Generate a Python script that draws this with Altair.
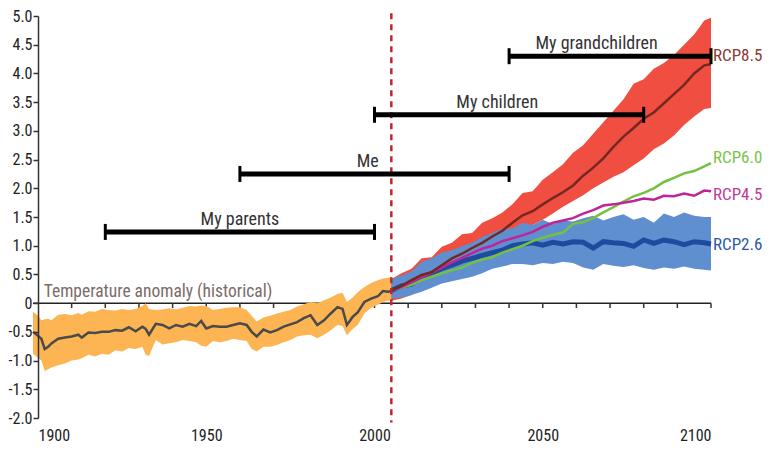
import altair as alt
import pandas as pd

FONT = "Roboto Condensed"

# ---------------- historical ----------------
hist_year = [1898.5, 1900, 1901, 1902, 1903, 1904, 1906, 1908, 1910, 1912, 1913, 1915, 1917, 1919,
             1921, 1923, 1925, 1927, 1929, 1931, 1932, 1933, 1935, 1937, 1939, 1941, 1943, 1945,
             1947, 1948.5, 1950, 1952, 1954, 1956, 1958, 1960, 1962, 1963.5, 1965, 1967, 1969,
             1971, 1973, 1975, 1977, 1979, 1981, 1983, 1985, 1987, 1989, 1990.5, 1991.8, 1993.5,
             1995, 1997, 1999, 2001, 2002.5, 2004, 2005]
hist_mean = [-0.50, -0.57, -0.62, -0.80, -0.76, -0.70, -0.62, -0.60, -0.58, -0.55, -0.60, -0.51, -0.52, -0.50,
             -0.50, -0.47, -0.48, -0.42, -0.49, -0.41, -0.45, -0.55, -0.36, -0.38, -0.44, -0.38, -0.41, -0.36,
             -0.40, -0.31, -0.44, -0.40, -0.41, -0.41, -0.38, -0.35, -0.38, -0.50, -0.58, -0.46, -0.51,
             -0.47, -0.41, -0.37, -0.33, -0.26, -0.21, -0.38, -0.30, -0.18, -0.07, -0.10, -0.38, -0.24,
             -0.16, 0.02, 0.08, 0.12, 0.21, 0.20, 0.21]
hist_hi = [-0.15, -0.22, -0.30, -0.28, -0.27, -0.30, -0.20, -0.19, -0.21, -0.17, -0.20, -0.14, -0.15, -0.10,
           -0.12, -0.13, -0.10, -0.12, -0.10, -0.05, 0.00, -0.10, -0.12, -0.11, -0.09, -0.11, -0.08, -0.05,
           -0.06, -0.04, -0.05, -0.12, -0.10, -0.08, -0.07, -0.07, -0.12, -0.22, -0.32, -0.25, -0.22,
           -0.18, -0.15, -0.12, -0.06, -0.02, 0.02, 0.00, 0.05, 0.10, 0.16, 0.18, 0.02, 0.10,
           0.19, 0.28, 0.35, 0.40, 0.43, 0.44, 0.45]
hist_lo = [-0.88, -0.95, -1.00, -1.18, -1.15, -1.12, -1.08, -1.05, -1.00, -0.98, -0.96, -0.90, -0.93, -0.88,
           -0.90, -0.82, -0.84, -0.78, -0.80, -0.76, -0.90, -0.92, -0.64, -0.72, -0.70, -0.68, -0.64, -0.66,
           -0.68, -0.74, -0.76, -0.66, -0.68, -0.66, -0.62, -0.64, -0.66, -0.80, -0.84, -0.76, -0.76,
           -0.73, -0.68, -0.64, -0.58, -0.56, -0.55, -0.61, -0.55, -0.47, -0.38, -0.40, -0.56, -0.45,
           -0.38, -0.18, -0.08, -0.03, 0.02, 0.04, 0.05]

# ---------------- projections ----------------
proj_year = [2005, 2008, 2011, 2014, 2017, 2020, 2023, 2026, 2029, 2032, 2035, 2038, 2041, 2044, 2047,
             2050, 2053, 2056, 2059, 2062, 2065, 2068, 2071, 2074, 2077, 2080, 2083, 2086, 2089, 2092,
             2095, 2098, 2100]
rcp85_mean = [0.22, 0.30, 0.40, 0.49, 0.54, 0.66, 0.78, 0.86, 0.96, 1.05, 1.16, 1.26, 1.40, 1.53, 1.60,
              1.72, 1.83, 1.93, 2.05, 2.22, 2.36, 2.52, 2.72, 2.90, 3.05, 3.21, 3.32, 3.48, 3.64, 3.80,
              4.00, 4.14, 4.16]
rcp85_hi = [0.42, 0.52, 0.60, 0.78, 0.80, 0.98, 1.05, 1.20, 1.22, 1.40, 1.48, 1.58, 1.72, 1.92, 1.95,
            2.15, 2.28, 2.42, 2.62, 2.75, 2.95, 3.15, 3.35, 3.55, 3.82, 3.90, 4.08, 4.18, 4.32, 4.50,
            4.68, 4.92, 4.97]
rcp85_lo = [0.04, 0.08, 0.14, 0.25, 0.34, 0.42, 0.55, 0.65, 0.75, 0.85, 0.95, 1.08, 1.20, 1.28, 1.36,
            1.45, 1.56, 1.68, 1.78, 1.88, 2.00, 2.10, 2.20, 2.28, 2.40, 2.52, 2.68, 2.78, 2.92, 3.10,
            3.25, 3.38, 3.40]
rcp26_mean = [0.22, 0.30, 0.33, 0.45, 0.52, 0.60, 0.66, 0.73, 0.78, 0.83, 0.88, 0.92, 1.00, 1.03, 1.05,
              1.01, 1.06, 1.03, 1.07, 1.06, 0.96, 1.07, 1.05, 1.04, 0.99, 1.10, 1.04, 1.10, 1.07, 1.02,
              1.07, 1.05, 1.03]
rcp26_hi = [0.42, 0.48, 0.55, 0.72, 0.78, 0.88, 0.92, 0.99, 1.05, 1.15, 1.22, 1.30, 1.30, 1.40, 1.36,
            1.45, 1.38, 1.44, 1.42, 1.48, 1.52, 1.44, 1.50, 1.55, 1.45, 1.50, 1.40, 1.56, 1.50, 1.58,
            1.52, 1.50, 1.50]
rcp26_lo = [0.08, 0.10, 0.14, 0.20, 0.27, 0.34, 0.38, 0.42, 0.46, 0.52, 0.60, 0.64, 0.68, 0.68, 0.66,
            0.70, 0.68, 0.72, 0.70, 0.62, 0.58, 0.68, 0.65, 0.63, 0.66, 0.61, 0.58, 0.62, 0.60, 0.64,
            0.60, 0.58, 0.57]
rcp45_mean = [0.22, 0.28, 0.36, 0.45, 0.53, 0.62, 0.71, 0.79, 0.87, 0.95, 1.00, 1.08, 1.13, 1.18, 1.24,
              1.33, 1.40, 1.44, 1.48, 1.56, 1.62, 1.70, 1.72, 1.75, 1.78, 1.82, 1.80, 1.87, 1.86, 1.91,
              1.87, 1.96, 1.95]
rcp60_mean = [0.22, 0.27, 0.32, 0.40, 0.46, 0.52, 0.57, 0.62, 0.70, 0.76, 0.80, 0.88, 0.94, 1.00, 1.08,
              1.14, 1.19, 1.23, 1.38, 1.41, 1.48, 1.58, 1.67, 1.77, 1.86, 1.92, 2.00, 2.11, 2.18, 2.26,
              2.30, 2.38, 2.44]

# ---------------- annotations ----------------
life_name = ["My parents", "Me", "My children", "My grandchildren"]
life_start = [1920, 1960, 2000, 2040]
life_end = [2000, 2040, 2080, 2100]
life_y = [1.24, 2.25, 3.28, 4.30]
life_label_x = [1960, 1998, 2036.5, 2066]

rcp_names = ["RCP8.5", "RCP6.0", "RCP4.5", "RCP2.6"]
rcp_label_y = [4.31, 2.52, 1.89, 1.02]
rcp_label_colors = ["#8b3a35", "#7cc24a", "#c23a9e", "#2c58a8"]

x_ticks = [1900, 1950, 2000, 2050, 2100]
y_ticks = [-2.0, -1.5, -1.0, -0.5, 0, 0.5, 1.0, 1.5, 2.0, 2.5, 3.0, 3.5, 4.0, 4.5, 5.0]
decades = [1910, 1920, 1930, 1940, 1950, 1960, 1970, 1980, 1990, 2000,
           2010, 2020, 2030, 2040, 2050, 2060, 2070, 2080, 2090, 2100]
proj_start = 2005
zero_start = 1898.5

# ---------------- frames ----------------
hist = pd.DataFrame({"year": hist_year, "value": hist_mean, "lo": hist_lo, "hi": hist_hi})
proj = pd.DataFrame({"year": proj_year, "r85": rcp85_mean, "r85lo": rcp85_lo, "r85hi": rcp85_hi,
                     "r26": rcp26_mean, "r26lo": rcp26_lo, "r26hi": rcp26_hi,
                     "r45": rcp45_mean, "r60": rcp60_mean})
life = pd.DataFrame({"name": life_name, "start": life_start, "end": life_end, "y": life_y,
                     "lx": life_label_x})
caps = pd.DataFrame({"year": life_start + life_end, "y": life_y + life_y})
rcp_lab = pd.DataFrame({"name": rcp_names, "y": rcp_label_y, "color": rcp_label_colors,
                        "year": [2100] * 4})
dec = pd.DataFrame({"year": decades})

xscale = alt.Scale(domain=[1900, 2100], nice=False, zero=False)
yscale = alt.Scale(domain=[-2, 5], nice=False, zero=False)

xaxis = alt.Axis(values=x_ticks, format="d", domain=False, ticks=False, grid=False,
                 labelPadding=9, labelFontSize=16, labelColor="#222222", labelFont=FONT,
                 title=None)
yaxis = alt.Axis(values=y_ticks, grid=False, title=None, domainColor="#333333", domainWidth=1.5,
                 tickColor="#333333", tickSize=5, tickWidth=1.5, labelPadding=1,
                 labelFontSize=16, labelColor="#222222", labelFont=FONT, zindex=1,
                 labelExpr="datum.value == 0 ? '0' : (datum.value < 0 ? '-' : '') + format(abs(datum.value), '.1f')")


def X(field):
    return alt.X(field, type="quantitative", scale=xscale, axis=xaxis)


def Y(field):
    return alt.Y(field, type="quantitative", scale=yscale, axis=yaxis)


base_h = alt.Chart(hist)
base_p = alt.Chart(proj)

zero_line = alt.Chart(pd.DataFrame({"a": [zero_start], "b": [2100], "v": [0]})).mark_rule(
    color="#222222", strokeWidth=1.5).encode(x=X("a"), x2="b", y=Y("v"))
dec_ticks = alt.Chart(dec).mark_rule(color="#333333", strokeWidth=1.5).encode(
    x=X("year"), y=Y("z:Q"), y2="z2:Q").transform_calculate(z="0", z2="-0.085")

hist_band = base_h.mark_area(color="#fdb452", opacity=1).encode(x=X("year"), y=Y("lo"), y2="hi")
r85_band = base_p.mark_area(color="#f04e40").encode(x=X("year"), y=Y("r85lo"), y2="r85hi")
r26_band = base_p.mark_area(color="#5f8fcf").encode(x=X("year"), y=Y("r26lo"), y2="r26hi")

hist_line = base_h.mark_line(color="#4a4a4a", strokeWidth=2.5).encode(x=X("year"), y=Y("value"))
r26_line = base_p.mark_line(color="#1e4b9f", strokeWidth=5).encode(x=X("year"), y=Y("r26"))
r60_line = base_p.mark_line(color="#74c043", strokeWidth=2.5).encode(x=X("year"), y=Y("r60"))
r45_line = base_p.mark_line(color="#c0249a", strokeWidth=2.5).encode(x=X("year"), y=Y("r45"))
r85_line = base_p.mark_line(color="#742822", strokeWidth=2.5).encode(x=X("year"), y=Y("r85"))

vline = alt.Chart(pd.DataFrame({"x": [proj_start], "t": [5.05], "b": [-2.08]})).mark_rule(
    color="#c0272d", strokeWidth=2.5, strokeDash=[6, 5]).encode(x=X("x"), y=Y("t"), y2="b")

hist_text = alt.Chart(pd.DataFrame({"x": [1901.7], "v": [0], "t": ["Temperature anomaly (historical)"]})).mark_text(
    align="left", baseline="alphabetic", dy=-6, fontSize=17.5, font=FONT, color="#7d6b68").encode(
    x=X("x"), y=Y("v"), text="t")

life_bars = alt.Chart(life).mark_rule(color="black", strokeWidth=5).encode(
    x=X("start"), x2="end", y=Y("y"))
life_caps = alt.Chart(caps).mark_tick(orient="vertical", size=16, thickness=3, color="black",
                                      opacity=1).encode(x=X("year"), y=Y("y"))
life_text = alt.Chart(life).mark_text(align="center", baseline="alphabetic", dy=-7, fontSize=18,
                                      font=FONT, color="#333333").encode(
    x=X("lx"), y=Y("y"), text="name")

rcp_text = alt.Chart(rcp_lab).mark_text(align="left", baseline="middle", dx=2, fontSize=17,
                                        font=FONT).encode(
    x=X("year"), y=Y("y"), text="name", color=alt.Color("color:N", scale=None))

chart = alt.layer(
    zero_line, dec_ticks, hist_band, r85_band, r26_band, hist_line,
    r26_line, r60_line, r45_line, r85_line, vline, hist_text,
    life_bars, life_caps, life_text, rcp_text
).properties(
    width=673, height=402,
    padding={"left": 30, "top": 8, "right": 51, "bottom": 28},
    autosize=alt.AutoSizeParams(type="none"),
).configure_view(stroke=None)

chart.save("out.html", embed_options={"renderer": "svg", "actions": False})
